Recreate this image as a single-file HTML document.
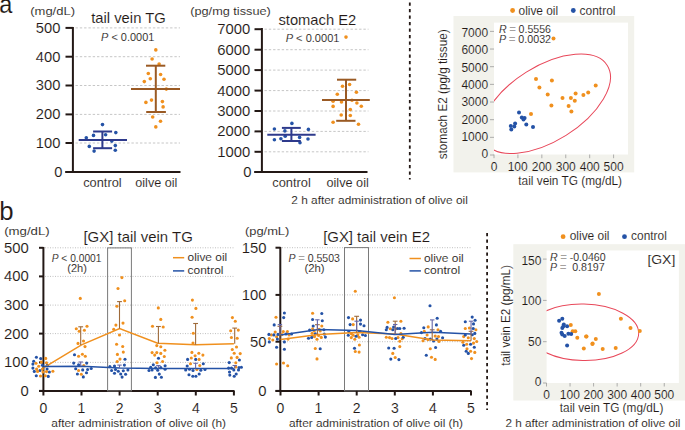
<!DOCTYPE html>
<html><head><meta charset="utf-8"><style>
html,body{margin:0;padding:0;background:#fff;width:685px;height:430px;overflow:hidden}
svg{display:block}
text{font-family:"Liberation Sans",sans-serif;white-space:pre;stroke:#fff;stroke-width:0.1px}
</style></head><body>
<svg width="685" height="430" viewBox="0 0 685 430">
<text x="-0.74" y="13.20" font-size="25.00" fill="#231815" textLength="13.07" lengthAdjust="spacingAndGlyphs">a</text>
<text x="30.22" y="15.20" font-size="11.00" fill="#231815" textLength="44.83" lengthAdjust="spacingAndGlyphs">(mg/dL)</text>
<line x1="75.50" y1="27.90" x2="180.00" y2="27.90" stroke="#c6c6c6" stroke-width="1.00" stroke-dasharray="2.4 1.9"/>
<line x1="75.50" y1="56.70" x2="180.00" y2="56.70" stroke="#c6c6c6" stroke-width="1.00" stroke-dasharray="2.4 1.9"/>
<line x1="75.50" y1="85.50" x2="180.00" y2="85.50" stroke="#c6c6c6" stroke-width="1.00" stroke-dasharray="2.4 1.9"/>
<line x1="75.50" y1="114.40" x2="180.00" y2="114.40" stroke="#c6c6c6" stroke-width="1.00" stroke-dasharray="2.4 1.9"/>
<line x1="75.50" y1="143.00" x2="180.00" y2="143.00" stroke="#c6c6c6" stroke-width="1.00" stroke-dasharray="2.4 1.9"/>
<line x1="65.50" y1="27.90" x2="73.00" y2="27.90" stroke="#231815" stroke-width="2.00"/>
<text x="35.84" y="32.80" font-size="14.00" fill="#231815" textLength="24.53" lengthAdjust="spacingAndGlyphs">500</text>
<line x1="65.50" y1="56.70" x2="73.00" y2="56.70" stroke="#231815" stroke-width="2.00"/>
<text x="35.84" y="61.60" font-size="14.00" fill="#231815" textLength="24.53" lengthAdjust="spacingAndGlyphs">400</text>
<line x1="65.50" y1="85.50" x2="73.00" y2="85.50" stroke="#231815" stroke-width="2.00"/>
<text x="35.84" y="90.40" font-size="14.00" fill="#231815" textLength="24.53" lengthAdjust="spacingAndGlyphs">300</text>
<line x1="65.50" y1="114.40" x2="73.00" y2="114.40" stroke="#231815" stroke-width="2.00"/>
<text x="35.84" y="119.30" font-size="14.00" fill="#231815" textLength="24.53" lengthAdjust="spacingAndGlyphs">200</text>
<line x1="65.50" y1="143.00" x2="73.00" y2="143.00" stroke="#231815" stroke-width="2.00"/>
<text x="35.84" y="147.90" font-size="14.00" fill="#231815" textLength="24.53" lengthAdjust="spacingAndGlyphs">100</text>
<line x1="65.50" y1="172.00" x2="73.00" y2="172.00" stroke="#231815" stroke-width="2.00"/>
<text x="54.36" y="176.90" font-size="14.00" fill="#231815" textLength="8.18" lengthAdjust="spacingAndGlyphs">0</text>
<line x1="72.90" y1="27.00" x2="72.90" y2="173.00" stroke="#231815" stroke-width="2.00"/>
<line x1="65.30" y1="172.00" x2="180.50" y2="172.00" stroke="#231815" stroke-width="2.00"/>
<text x="91.18" y="23.30" font-size="14.70" fill="#231815" textLength="74.62" lengthAdjust="spacingAndGlyphs">tail vein TG</text>
<text x="101.07" y="41.40" font-size="10.50" fill="#231815" textLength="53.33" lengthAdjust="spacingAndGlyphs"><tspan font-style="italic">P</tspan> &lt; 0.0001</text>
<text x="83.19" y="186.80" font-size="12.00" fill="#231815" textLength="38.47" lengthAdjust="spacingAndGlyphs">control</text>
<text x="135.29" y="186.80" font-size="12.00" fill="#231815" textLength="42.13" lengthAdjust="spacingAndGlyphs">oilve oil</text>
<circle cx="102.50" cy="124.60" r="1.80" fill="#2452a6"/>
<circle cx="115.80" cy="132.60" r="1.80" fill="#2452a6"/>
<circle cx="93.50" cy="135.40" r="1.80" fill="#2452a6"/>
<circle cx="105.60" cy="134.70" r="1.80" fill="#2452a6"/>
<circle cx="86.30" cy="137.80" r="1.80" fill="#2452a6"/>
<circle cx="111.80" cy="141.10" r="1.80" fill="#2452a6"/>
<circle cx="89.30" cy="146.40" r="1.80" fill="#2452a6"/>
<circle cx="115.30" cy="145.60" r="1.80" fill="#2452a6"/>
<circle cx="94.10" cy="151.10" r="1.80" fill="#2452a6"/>
<circle cx="115.30" cy="150.30" r="1.80" fill="#2452a6"/>
<circle cx="155.80" cy="49.90" r="1.80" fill="#f0901e"/>
<circle cx="152.10" cy="59.00" r="1.80" fill="#f0901e"/>
<circle cx="159.10" cy="64.10" r="1.80" fill="#f0901e"/>
<circle cx="148.30" cy="73.50" r="1.80" fill="#f0901e"/>
<circle cx="160.60" cy="74.50" r="1.80" fill="#f0901e"/>
<circle cx="150.30" cy="78.70" r="1.80" fill="#f0901e"/>
<circle cx="164.00" cy="79.20" r="1.80" fill="#f0901e"/>
<circle cx="144.30" cy="81.60" r="1.80" fill="#f0901e"/>
<circle cx="166.30" cy="89.10" r="1.80" fill="#f0901e"/>
<circle cx="145.90" cy="102.40" r="1.80" fill="#f0901e"/>
<circle cx="151.50" cy="100.10" r="1.80" fill="#f0901e"/>
<circle cx="162.40" cy="101.60" r="1.80" fill="#f0901e"/>
<circle cx="163.10" cy="106.90" r="1.80" fill="#f0901e"/>
<circle cx="152.70" cy="117.00" r="1.80" fill="#f0901e"/>
<circle cx="160.50" cy="121.30" r="1.80" fill="#f0901e"/>
<circle cx="155.80" cy="126.90" r="1.80" fill="#f0901e"/>
<line x1="78.70" y1="139.90" x2="127.00" y2="139.90" stroke="#2e3a8c" stroke-width="2.00"/>
<line x1="102.40" y1="131.50" x2="102.40" y2="148.20" stroke="#2e3a8c" stroke-width="2.00"/>
<line x1="93.10" y1="131.50" x2="112.10" y2="131.50" stroke="#2e3a8c" stroke-width="2.00"/>
<line x1="93.10" y1="148.20" x2="112.10" y2="148.20" stroke="#2e3a8c" stroke-width="2.00"/>
<line x1="131.00" y1="89.00" x2="180.00" y2="89.00" stroke="#9a5a24" stroke-width="2.00"/>
<line x1="155.80" y1="65.70" x2="155.80" y2="112.00" stroke="#9a5a24" stroke-width="2.00"/>
<line x1="146.00" y1="65.70" x2="165.30" y2="65.70" stroke="#9a5a24" stroke-width="2.00"/>
<line x1="146.20" y1="112.00" x2="165.90" y2="112.00" stroke="#9a5a24" stroke-width="2.00"/>
<text x="190.24" y="15.20" font-size="11.00" fill="#231815" textLength="80.53" lengthAdjust="spacingAndGlyphs">(pg/mg tissue)</text>
<line x1="264.50" y1="29.20" x2="368.50" y2="29.20" stroke="#c6c6c6" stroke-width="1.00" stroke-dasharray="2.4 1.9"/>
<line x1="264.50" y1="49.70" x2="368.50" y2="49.70" stroke="#c6c6c6" stroke-width="1.00" stroke-dasharray="2.4 1.9"/>
<line x1="264.50" y1="70.10" x2="368.50" y2="70.10" stroke="#c6c6c6" stroke-width="1.00" stroke-dasharray="2.4 1.9"/>
<line x1="264.50" y1="90.60" x2="368.50" y2="90.60" stroke="#c6c6c6" stroke-width="1.00" stroke-dasharray="2.4 1.9"/>
<line x1="264.50" y1="111.00" x2="368.50" y2="111.00" stroke="#c6c6c6" stroke-width="1.00" stroke-dasharray="2.4 1.9"/>
<line x1="264.50" y1="131.40" x2="368.50" y2="131.40" stroke="#c6c6c6" stroke-width="1.00" stroke-dasharray="2.4 1.9"/>
<line x1="264.50" y1="151.80" x2="368.50" y2="151.80" stroke="#c6c6c6" stroke-width="1.00" stroke-dasharray="2.4 1.9"/>
<line x1="254.50" y1="29.20" x2="262.00" y2="29.20" stroke="#231815" stroke-width="2.00"/>
<text x="217.20" y="34.10" font-size="14.00" fill="#231815" textLength="33.01" lengthAdjust="spacingAndGlyphs">7000</text>
<line x1="254.50" y1="49.70" x2="262.00" y2="49.70" stroke="#231815" stroke-width="2.00"/>
<text x="217.20" y="54.60" font-size="14.00" fill="#231815" textLength="33.01" lengthAdjust="spacingAndGlyphs">6000</text>
<line x1="254.50" y1="70.10" x2="262.00" y2="70.10" stroke="#231815" stroke-width="2.00"/>
<text x="217.20" y="75.00" font-size="14.00" fill="#231815" textLength="33.01" lengthAdjust="spacingAndGlyphs">5000</text>
<line x1="254.50" y1="90.60" x2="262.00" y2="90.60" stroke="#231815" stroke-width="2.00"/>
<text x="217.20" y="95.50" font-size="14.00" fill="#231815" textLength="33.01" lengthAdjust="spacingAndGlyphs">4000</text>
<line x1="254.50" y1="111.00" x2="262.00" y2="111.00" stroke="#231815" stroke-width="2.00"/>
<text x="217.20" y="115.90" font-size="14.00" fill="#231815" textLength="33.01" lengthAdjust="spacingAndGlyphs">3000</text>
<line x1="254.50" y1="131.40" x2="262.00" y2="131.40" stroke="#231815" stroke-width="2.00"/>
<text x="217.20" y="136.30" font-size="14.00" fill="#231815" textLength="33.01" lengthAdjust="spacingAndGlyphs">2000</text>
<line x1="254.50" y1="151.80" x2="262.00" y2="151.80" stroke="#231815" stroke-width="2.00"/>
<text x="217.20" y="156.70" font-size="14.00" fill="#231815" textLength="33.01" lengthAdjust="spacingAndGlyphs">1000</text>
<line x1="254.50" y1="172.00" x2="262.00" y2="172.00" stroke="#231815" stroke-width="2.00"/>
<text x="243.28" y="176.90" font-size="14.00" fill="#231815" textLength="8.25" lengthAdjust="spacingAndGlyphs">0</text>
<line x1="261.90" y1="28.00" x2="261.90" y2="173.00" stroke="#231815" stroke-width="2.00"/>
<line x1="254.30" y1="172.00" x2="367.50" y2="172.00" stroke="#231815" stroke-width="2.00"/>
<text x="278.43" y="25.10" font-size="14.60" fill="#231815" textLength="77.81" lengthAdjust="spacingAndGlyphs">stomach E2</text>
<text x="285.67" y="41.50" font-size="10.50" fill="#231815" textLength="53.83" lengthAdjust="spacingAndGlyphs"><tspan font-style="italic">P</tspan> &lt; 0.0001</text>
<text x="272.29" y="186.80" font-size="12.00" fill="#231815" textLength="38.57" lengthAdjust="spacingAndGlyphs">control</text>
<text x="326.49" y="186.80" font-size="12.00" fill="#231815" textLength="42.33" lengthAdjust="spacingAndGlyphs">oilve oil</text>
<circle cx="291.90" cy="123.40" r="1.80" fill="#2452a6"/>
<circle cx="274.40" cy="129.00" r="1.80" fill="#2452a6"/>
<circle cx="308.40" cy="129.40" r="1.80" fill="#2452a6"/>
<circle cx="284.90" cy="130.90" r="1.80" fill="#2452a6"/>
<circle cx="285.20" cy="136.30" r="1.80" fill="#2452a6"/>
<circle cx="299.60" cy="137.40" r="1.80" fill="#2452a6"/>
<circle cx="274.40" cy="139.80" r="1.80" fill="#2452a6"/>
<circle cx="280.90" cy="138.80" r="1.80" fill="#2452a6"/>
<circle cx="308.00" cy="139.00" r="1.80" fill="#2452a6"/>
<circle cx="300.00" cy="142.80" r="1.80" fill="#2452a6"/>
<circle cx="346.00" cy="37.10" r="1.80" fill="#f0901e"/>
<circle cx="349.60" cy="84.50" r="1.80" fill="#f0901e"/>
<circle cx="342.50" cy="86.20" r="1.80" fill="#f0901e"/>
<circle cx="356.40" cy="92.20" r="1.80" fill="#f0901e"/>
<circle cx="337.30" cy="94.30" r="1.80" fill="#f0901e"/>
<circle cx="333.10" cy="101.30" r="1.80" fill="#f0901e"/>
<circle cx="341.50" cy="102.00" r="1.80" fill="#f0901e"/>
<circle cx="352.00" cy="100.20" r="1.80" fill="#f0901e"/>
<circle cx="356.90" cy="103.00" r="1.80" fill="#f0901e"/>
<circle cx="361.30" cy="106.20" r="1.80" fill="#f0901e"/>
<circle cx="333.10" cy="106.40" r="1.80" fill="#f0901e"/>
<circle cx="350.30" cy="109.60" r="1.80" fill="#f0901e"/>
<circle cx="341.20" cy="115.00" r="1.80" fill="#f0901e"/>
<circle cx="350.30" cy="115.50" r="1.80" fill="#f0901e"/>
<circle cx="333.10" cy="122.20" r="1.80" fill="#f0901e"/>
<circle cx="358.50" cy="124.30" r="1.80" fill="#f0901e"/>
<line x1="267.30" y1="134.80" x2="315.60" y2="134.80" stroke="#2e3a8c" stroke-width="2.00"/>
<line x1="291.40" y1="127.90" x2="291.40" y2="141.00" stroke="#2e3a8c" stroke-width="2.00"/>
<line x1="281.90" y1="127.90" x2="300.80" y2="127.90" stroke="#2e3a8c" stroke-width="2.00"/>
<line x1="281.90" y1="141.00" x2="300.80" y2="141.00" stroke="#2e3a8c" stroke-width="2.00"/>
<line x1="322.00" y1="99.90" x2="369.80" y2="99.90" stroke="#9a5a24" stroke-width="2.00"/>
<line x1="346.00" y1="79.70" x2="346.00" y2="120.80" stroke="#9a5a24" stroke-width="2.00"/>
<line x1="337.00" y1="79.70" x2="356.20" y2="79.70" stroke="#9a5a24" stroke-width="2.00"/>
<line x1="336.20" y1="120.80" x2="355.50" y2="120.80" stroke="#9a5a24" stroke-width="2.00"/>
<text x="291.31" y="203.80" font-size="11.70" fill="#231815" textLength="176.48" lengthAdjust="spacingAndGlyphs">2 h after administration of olive oil</text>
<line x1="409.80" y1="2.50" x2="409.80" y2="179.50" stroke="#231815" stroke-width="1.80" stroke-dasharray="3.2 3.3"/>
<line x1="487.10" y1="233.00" x2="487.10" y2="410.00" stroke="#231815" stroke-width="1.80" stroke-dasharray="3.2 3.3"/>
<rect x="453.5" y="16" width="180.7" height="156.4" fill="#f2f2ec"/>
<rect x="494" y="22.6" width="134" height="131.9" fill="#ffffff"/>
<clipPath id="c1"><rect x="494" y="22.6" width="134" height="131.9"/></clipPath>
<g clip-path="url(#c1)"><ellipse cx="546.15" cy="103.8" rx="72.15" ry="37.35" transform="rotate(-32.1 546.15 103.8)" fill="none" stroke="#e8485a" stroke-width="1"/></g>
<line x1="490.00" y1="155.00" x2="494.00" y2="155.00" stroke="#9a9a9a" stroke-width="0.80"/>
<text x="481.46" y="157.70" font-size="12.00" fill="#231815">0</text>
<line x1="490.00" y1="137.34" x2="494.00" y2="137.34" stroke="#9a9a9a" stroke-width="0.80"/>
<text x="461.42" y="141.40" font-size="12.00" fill="#231815">1000</text>
<line x1="490.00" y1="119.68" x2="494.00" y2="119.68" stroke="#9a9a9a" stroke-width="0.80"/>
<text x="461.42" y="124.30" font-size="12.00" fill="#231815">2000</text>
<line x1="490.00" y1="102.02" x2="494.00" y2="102.02" stroke="#9a9a9a" stroke-width="0.80"/>
<text x="461.42" y="106.40" font-size="12.00" fill="#231815">3000</text>
<line x1="490.00" y1="84.36" x2="494.00" y2="84.36" stroke="#9a9a9a" stroke-width="0.80"/>
<text x="461.42" y="88.60" font-size="12.00" fill="#231815">4000</text>
<line x1="490.00" y1="66.70" x2="494.00" y2="66.70" stroke="#9a9a9a" stroke-width="0.80"/>
<text x="461.42" y="71.60" font-size="12.00" fill="#231815">5000</text>
<line x1="490.00" y1="49.04" x2="494.00" y2="49.04" stroke="#9a9a9a" stroke-width="0.80"/>
<text x="461.42" y="53.60" font-size="12.00" fill="#231815">6000</text>
<line x1="490.00" y1="31.38" x2="494.00" y2="31.38" stroke="#9a9a9a" stroke-width="0.80"/>
<text x="461.42" y="37.30" font-size="12.00" fill="#231815">7000</text>
<line x1="494.00" y1="154.50" x2="494.00" y2="158.20" stroke="#9a9a9a" stroke-width="0.80"/>
<text x="490.64" y="171.40" font-size="12.00" fill="#231815">0</text>
<line x1="517.92" y1="154.50" x2="517.92" y2="158.20" stroke="#9a9a9a" stroke-width="0.80"/>
<text x="507.69" y="171.40" font-size="12.00" fill="#231815">100</text>
<line x1="541.84" y1="154.50" x2="541.84" y2="158.20" stroke="#9a9a9a" stroke-width="0.80"/>
<text x="531.76" y="171.40" font-size="12.00" fill="#231815">200</text>
<line x1="565.76" y1="154.50" x2="565.76" y2="158.20" stroke="#9a9a9a" stroke-width="0.80"/>
<text x="555.77" y="171.40" font-size="12.00" fill="#231815">300</text>
<line x1="589.68" y1="154.50" x2="589.68" y2="158.20" stroke="#9a9a9a" stroke-width="0.80"/>
<text x="579.78" y="171.40" font-size="12.00" fill="#231815">400</text>
<line x1="613.60" y1="154.50" x2="613.60" y2="158.20" stroke="#9a9a9a" stroke-width="0.80"/>
<text x="603.58" y="171.40" font-size="12.00" fill="#231815">500</text>
<text x="518.32" y="185.20" font-size="12.00" fill="#231815" textLength="103.72" lengthAdjust="spacingAndGlyphs">tail vein TG (mg/dL)</text>
<circle cx="512.60" cy="10.50" r="2.40" fill="#f0901e"/>
<text x="518.52" y="14.60" font-size="12.00" fill="#231815" textLength="39.65" lengthAdjust="spacingAndGlyphs">olive oil</text>
<circle cx="573.30" cy="10.50" r="2.40" fill="#2452a6"/>
<text x="579.52" y="14.60" font-size="12.00" fill="#231815" textLength="35.98" lengthAdjust="spacingAndGlyphs">control</text>
<text x="498.98" y="32.60" font-size="11.50" fill="#231815" textLength="51.94" lengthAdjust="spacingAndGlyphs"><tspan font-style="italic">R</tspan> = 0.5556</text>
<text x="498.98" y="43.00" font-size="11.50" fill="#231815" textLength="52.06" lengthAdjust="spacingAndGlyphs"><tspan font-style="italic">P</tspan> = 0.0032</text>
<circle cx="553.50" cy="38.40" r="2.00" fill="#f0901e"/>
<circle cx="536.00" cy="79.00" r="2.00" fill="#f0901e"/>
<circle cx="551.90" cy="80.40" r="2.00" fill="#f0901e"/>
<circle cx="539.40" cy="87.40" r="2.00" fill="#f0901e"/>
<circle cx="547.70" cy="94.40" r="2.00" fill="#f0901e"/>
<circle cx="551.40" cy="105.50" r="2.00" fill="#f0901e"/>
<circle cx="562.50" cy="98.00" r="2.00" fill="#f0901e"/>
<circle cx="570.90" cy="98.00" r="2.00" fill="#f0901e"/>
<circle cx="575.60" cy="93.50" r="2.00" fill="#f0901e"/>
<circle cx="574.80" cy="100.80" r="2.00" fill="#f0901e"/>
<circle cx="568.60" cy="106.10" r="2.00" fill="#f0901e"/>
<circle cx="571.40" cy="111.60" r="2.00" fill="#f0901e"/>
<circle cx="583.40" cy="94.90" r="2.00" fill="#f0901e"/>
<circle cx="588.20" cy="92.40" r="2.00" fill="#f0901e"/>
<circle cx="595.70" cy="85.40" r="2.00" fill="#f0901e"/>
<circle cx="531.00" cy="113.90" r="2.00" fill="#f0901e"/>
<circle cx="519.00" cy="112.50" r="2.00" fill="#2452a6"/>
<circle cx="521.80" cy="117.50" r="2.00" fill="#2452a6"/>
<circle cx="524.60" cy="118.10" r="2.00" fill="#2452a6"/>
<circle cx="523.50" cy="119.50" r="2.00" fill="#2452a6"/>
<circle cx="515.10" cy="123.60" r="2.00" fill="#2452a6"/>
<circle cx="510.80" cy="125.90" r="2.00" fill="#2452a6"/>
<circle cx="511.30" cy="129.40" r="2.00" fill="#2452a6"/>
<circle cx="514.30" cy="126.40" r="2.00" fill="#2452a6"/>
<circle cx="526.30" cy="124.50" r="2.00" fill="#2452a6"/>
<circle cx="533.00" cy="127.00" r="2.00" fill="#2452a6"/>
<g transform="translate(447.4 159) rotate(-90)"><text x="-0.29" y="0.00" font-size="12.00" fill="#231815" textLength="130.01" lengthAdjust="spacingAndGlyphs">stomach E2 (pg/g tissue)</text></g>
<text x="-0.68" y="219.60" font-size="25.00" fill="#231815" textLength="14.34" lengthAdjust="spacingAndGlyphs">b</text>
<text x="4.21" y="234.70" font-size="11.50" fill="#231815" textLength="45.46" lengthAdjust="spacingAndGlyphs">(mg/dL)</text>
<line x1="45.00" y1="247.80" x2="234.00" y2="247.80" stroke="#c0c0c0" stroke-width="1.00" stroke-dasharray="1 1.5"/>
<line x1="45.00" y1="276.40" x2="234.00" y2="276.40" stroke="#c0c0c0" stroke-width="1.00" stroke-dasharray="1 1.5"/>
<line x1="45.00" y1="305.10" x2="234.00" y2="305.10" stroke="#c0c0c0" stroke-width="1.00" stroke-dasharray="1 1.5"/>
<line x1="45.00" y1="333.60" x2="234.00" y2="333.60" stroke="#c0c0c0" stroke-width="1.00" stroke-dasharray="1 1.5"/>
<line x1="45.00" y1="362.40" x2="234.00" y2="362.40" stroke="#c0c0c0" stroke-width="1.00" stroke-dasharray="1 1.5"/>
<line x1="39.00" y1="247.80" x2="43.40" y2="247.80" stroke="#231815" stroke-width="2.00"/>
<text x="4.01" y="252.70" font-size="14.00" fill="#231815" textLength="24.76" lengthAdjust="spacingAndGlyphs">500</text>
<line x1="39.00" y1="276.40" x2="43.40" y2="276.40" stroke="#231815" stroke-width="2.00"/>
<text x="4.01" y="281.30" font-size="14.00" fill="#231815" textLength="24.76" lengthAdjust="spacingAndGlyphs">400</text>
<line x1="39.00" y1="305.10" x2="43.40" y2="305.10" stroke="#231815" stroke-width="2.00"/>
<text x="4.01" y="310.00" font-size="14.00" fill="#231815" textLength="24.76" lengthAdjust="spacingAndGlyphs">300</text>
<line x1="39.00" y1="333.60" x2="43.40" y2="333.60" stroke="#231815" stroke-width="2.00"/>
<text x="4.01" y="338.50" font-size="14.00" fill="#231815" textLength="24.76" lengthAdjust="spacingAndGlyphs">200</text>
<line x1="39.00" y1="362.40" x2="43.40" y2="362.40" stroke="#231815" stroke-width="2.00"/>
<text x="4.01" y="367.30" font-size="14.00" fill="#231815" textLength="24.76" lengthAdjust="spacingAndGlyphs">100</text>
<line x1="39.00" y1="390.90" x2="43.40" y2="390.90" stroke="#231815" stroke-width="2.00"/>
<text x="20.48" y="395.80" font-size="14.00" fill="#231815" textLength="8.25" lengthAdjust="spacingAndGlyphs">0</text>
<line x1="43.40" y1="247.00" x2="43.40" y2="391.50" stroke="#231815" stroke-width="2.00"/>
<line x1="39.00" y1="390.90" x2="234.50" y2="390.90" stroke="#231815" stroke-width="2.00"/>
<rect x="107.6" y="247.9" width="23.8" height="143" fill="none" stroke="#7a7a7a" stroke-width="1"/>
<text x="83.45" y="242.30" font-size="14.50" fill="#231815" textLength="109.33" lengthAdjust="spacingAndGlyphs">[GX] tail vein TG</text>
<text x="51.69" y="261.60" font-size="11.00" fill="#231815" textLength="49.77" lengthAdjust="spacingAndGlyphs"><tspan font-style="italic">P</tspan> &lt; 0.0001</text>
<text x="67.24" y="271.60" font-size="11.00" fill="#231815" textLength="19.66" lengthAdjust="spacingAndGlyphs">(2h)</text>
<line x1="173.00" y1="257.70" x2="184.20" y2="257.70" stroke="#f0901e" stroke-width="1.50"/>
<line x1="173.00" y1="270.90" x2="184.20" y2="270.90" stroke="#2452a6" stroke-width="1.50"/>
<text x="187.52" y="260.50" font-size="11.80" fill="#231815" textLength="39.65" lengthAdjust="spacingAndGlyphs">olive oil</text>
<text x="187.52" y="273.90" font-size="11.80" fill="#231815" textLength="35.98" lengthAdjust="spacingAndGlyphs">control</text>
<line x1="43.40" y1="390.90" x2="43.40" y2="395.50" stroke="#231815" stroke-width="2.00"/>
<text x="39.48" y="412.60" font-size="14.00" fill="#231815">0</text>
<line x1="81.50" y1="390.90" x2="81.50" y2="395.50" stroke="#231815" stroke-width="2.00"/>
<text x="77.41" y="412.60" font-size="14.00" fill="#231815">1</text>
<line x1="119.60" y1="390.90" x2="119.60" y2="395.50" stroke="#231815" stroke-width="2.00"/>
<text x="115.71" y="412.60" font-size="14.00" fill="#231815">2</text>
<line x1="157.70" y1="390.90" x2="157.70" y2="395.50" stroke="#231815" stroke-width="2.00"/>
<text x="153.85" y="412.60" font-size="14.00" fill="#231815">3</text>
<line x1="195.80" y1="390.90" x2="195.80" y2="395.50" stroke="#231815" stroke-width="2.00"/>
<text x="191.95" y="412.60" font-size="14.00" fill="#231815">4</text>
<line x1="233.90" y1="390.90" x2="233.90" y2="395.50" stroke="#231815" stroke-width="2.00"/>
<text x="230.02" y="412.60" font-size="14.00" fill="#231815">5</text>
<text x="51.33" y="427.00" font-size="11.70" fill="#231815" textLength="174.63" lengthAdjust="spacingAndGlyphs">after administration of olive oil (h)</text>
<circle cx="36.40" cy="357.20" r="1.55" fill="#2452a6"/>
<circle cx="40.70" cy="358.60" r="1.55" fill="#2452a6"/>
<circle cx="33.70" cy="361.20" r="1.55" fill="#2452a6"/>
<circle cx="32.90" cy="364.10" r="1.55" fill="#2452a6"/>
<circle cx="42.40" cy="365.30" r="1.55" fill="#2452a6"/>
<circle cx="47.30" cy="365.30" r="1.55" fill="#2452a6"/>
<circle cx="32.90" cy="368.10" r="1.55" fill="#2452a6"/>
<circle cx="34.30" cy="371.40" r="1.55" fill="#2452a6"/>
<circle cx="39.90" cy="370.50" r="1.55" fill="#2452a6"/>
<circle cx="47.10" cy="369.10" r="1.55" fill="#2452a6"/>
<circle cx="49.40" cy="372.00" r="1.55" fill="#2452a6"/>
<circle cx="36.30" cy="375.80" r="1.55" fill="#2452a6"/>
<circle cx="48.30" cy="376.40" r="1.55" fill="#2452a6"/>
<circle cx="74.50" cy="354.80" r="1.55" fill="#2452a6"/>
<circle cx="73.70" cy="363.10" r="1.55" fill="#2452a6"/>
<circle cx="86.70" cy="363.10" r="1.55" fill="#2452a6"/>
<circle cx="75.70" cy="368.70" r="1.55" fill="#2452a6"/>
<circle cx="82.70" cy="369.90" r="1.55" fill="#2452a6"/>
<circle cx="87.60" cy="369.50" r="1.55" fill="#2452a6"/>
<circle cx="91.20" cy="368.50" r="1.55" fill="#2452a6"/>
<circle cx="77.40" cy="374.00" r="1.55" fill="#2452a6"/>
<circle cx="86.50" cy="372.80" r="1.55" fill="#2452a6"/>
<circle cx="83.30" cy="376.90" r="1.55" fill="#2452a6"/>
<circle cx="78.60" cy="364.70" r="1.55" fill="#2452a6"/>
<circle cx="125.00" cy="359.30" r="1.55" fill="#2452a6"/>
<circle cx="124.40" cy="365.10" r="1.55" fill="#2452a6"/>
<circle cx="109.90" cy="366.60" r="1.55" fill="#2452a6"/>
<circle cx="114.50" cy="366.00" r="1.55" fill="#2452a6"/>
<circle cx="111.60" cy="370.50" r="1.55" fill="#2452a6"/>
<circle cx="115.50" cy="369.50" r="1.55" fill="#2452a6"/>
<circle cx="118.30" cy="371.30" r="1.55" fill="#2452a6"/>
<circle cx="123.30" cy="370.70" r="1.55" fill="#2452a6"/>
<circle cx="127.90" cy="369.90" r="1.55" fill="#2452a6"/>
<circle cx="114.50" cy="373.30" r="1.55" fill="#2452a6"/>
<circle cx="120.70" cy="374.00" r="1.55" fill="#2452a6"/>
<circle cx="125.60" cy="374.20" r="1.55" fill="#2452a6"/>
<circle cx="122.10" cy="377.10" r="1.55" fill="#2452a6"/>
<circle cx="158.50" cy="358.30" r="1.55" fill="#2452a6"/>
<circle cx="153.30" cy="364.80" r="1.55" fill="#2452a6"/>
<circle cx="165.10" cy="365.80" r="1.55" fill="#2452a6"/>
<circle cx="150.70" cy="367.30" r="1.55" fill="#2452a6"/>
<circle cx="155.60" cy="367.90" r="1.55" fill="#2452a6"/>
<circle cx="160.80" cy="367.60" r="1.55" fill="#2452a6"/>
<circle cx="149.00" cy="370.50" r="1.55" fill="#2452a6"/>
<circle cx="152.10" cy="370.00" r="1.55" fill="#2452a6"/>
<circle cx="157.70" cy="370.20" r="1.55" fill="#2452a6"/>
<circle cx="165.10" cy="369.30" r="1.55" fill="#2452a6"/>
<circle cx="159.30" cy="374.10" r="1.55" fill="#2452a6"/>
<circle cx="155.40" cy="377.40" r="1.55" fill="#2452a6"/>
<circle cx="161.40" cy="377.20" r="1.55" fill="#2452a6"/>
<circle cx="187.60" cy="359.40" r="1.55" fill="#2452a6"/>
<circle cx="195.70" cy="359.40" r="1.55" fill="#2452a6"/>
<circle cx="203.30" cy="363.80" r="1.55" fill="#2452a6"/>
<circle cx="187.20" cy="366.00" r="1.55" fill="#2452a6"/>
<circle cx="185.70" cy="369.90" r="1.55" fill="#2452a6"/>
<circle cx="189.50" cy="369.30" r="1.55" fill="#2452a6"/>
<circle cx="193.00" cy="370.50" r="1.55" fill="#2452a6"/>
<circle cx="200.80" cy="370.20" r="1.55" fill="#2452a6"/>
<circle cx="205.00" cy="369.50" r="1.55" fill="#2452a6"/>
<circle cx="189.00" cy="374.80" r="1.55" fill="#2452a6"/>
<circle cx="199.20" cy="374.00" r="1.55" fill="#2452a6"/>
<circle cx="192.80" cy="376.30" r="1.55" fill="#2452a6"/>
<circle cx="195.90" cy="376.30" r="1.55" fill="#2452a6"/>
<circle cx="239.40" cy="360.00" r="1.55" fill="#2452a6"/>
<circle cx="229.20" cy="362.60" r="1.55" fill="#2452a6"/>
<circle cx="241.40" cy="367.30" r="1.55" fill="#2452a6"/>
<circle cx="228.60" cy="368.10" r="1.55" fill="#2452a6"/>
<circle cx="231.50" cy="368.10" r="1.55" fill="#2452a6"/>
<circle cx="233.80" cy="369.90" r="1.55" fill="#2452a6"/>
<circle cx="238.50" cy="369.90" r="1.55" fill="#2452a6"/>
<circle cx="239.00" cy="367.60" r="1.55" fill="#2452a6"/>
<circle cx="229.50" cy="372.00" r="1.55" fill="#2452a6"/>
<circle cx="229.80" cy="375.10" r="1.55" fill="#2452a6"/>
<circle cx="236.20" cy="374.00" r="1.55" fill="#2452a6"/>
<circle cx="234.20" cy="376.30" r="1.55" fill="#2452a6"/>
<circle cx="45.70" cy="358.40" r="1.55" fill="#f0901e"/>
<circle cx="41.30" cy="362.10" r="1.55" fill="#f0901e"/>
<circle cx="36.00" cy="363.30" r="1.55" fill="#f0901e"/>
<circle cx="46.50" cy="362.70" r="1.55" fill="#f0901e"/>
<circle cx="38.70" cy="366.20" r="1.55" fill="#f0901e"/>
<circle cx="36.60" cy="369.10" r="1.55" fill="#f0901e"/>
<circle cx="42.40" cy="369.10" r="1.55" fill="#f0901e"/>
<circle cx="37.60" cy="371.40" r="1.55" fill="#f0901e"/>
<circle cx="43.00" cy="372.00" r="1.55" fill="#f0901e"/>
<circle cx="46.50" cy="371.60" r="1.55" fill="#f0901e"/>
<circle cx="52.90" cy="371.20" r="1.55" fill="#f0901e"/>
<circle cx="40.50" cy="376.00" r="1.55" fill="#f0901e"/>
<circle cx="45.30" cy="375.80" r="1.55" fill="#f0901e"/>
<circle cx="80.30" cy="298.40" r="1.55" fill="#f0901e"/>
<circle cx="76.30" cy="328.70" r="1.55" fill="#f0901e"/>
<circle cx="79.20" cy="331.30" r="1.55" fill="#f0901e"/>
<circle cx="87.00" cy="326.30" r="1.55" fill="#f0901e"/>
<circle cx="84.40" cy="330.30" r="1.55" fill="#f0901e"/>
<circle cx="83.50" cy="341.00" r="1.55" fill="#f0901e"/>
<circle cx="78.00" cy="343.40" r="1.55" fill="#f0901e"/>
<circle cx="85.00" cy="346.60" r="1.55" fill="#f0901e"/>
<circle cx="78.60" cy="356.30" r="1.55" fill="#f0901e"/>
<circle cx="82.40" cy="354.20" r="1.55" fill="#f0901e"/>
<circle cx="85.30" cy="356.20" r="1.55" fill="#f0901e"/>
<circle cx="83.80" cy="365.50" r="1.55" fill="#f0901e"/>
<circle cx="78.60" cy="370.50" r="1.55" fill="#f0901e"/>
<circle cx="81.30" cy="374.30" r="1.55" fill="#f0901e"/>
<circle cx="121.90" cy="277.60" r="1.55" fill="#f0901e"/>
<circle cx="118.00" cy="288.50" r="1.55" fill="#f0901e"/>
<circle cx="124.70" cy="300.70" r="1.55" fill="#f0901e"/>
<circle cx="116.90" cy="306.30" r="1.55" fill="#f0901e"/>
<circle cx="123.00" cy="323.10" r="1.55" fill="#f0901e"/>
<circle cx="115.90" cy="325.10" r="1.55" fill="#f0901e"/>
<circle cx="113.70" cy="329.20" r="1.55" fill="#f0901e"/>
<circle cx="119.50" cy="335.00" r="1.55" fill="#f0901e"/>
<circle cx="116.60" cy="344.30" r="1.55" fill="#f0901e"/>
<circle cx="122.70" cy="346.50" r="1.55" fill="#f0901e"/>
<circle cx="123.30" cy="352.10" r="1.55" fill="#f0901e"/>
<circle cx="117.40" cy="354.40" r="1.55" fill="#f0901e"/>
<circle cx="120.00" cy="359.10" r="1.55" fill="#f0901e"/>
<circle cx="117.20" cy="361.60" r="1.55" fill="#f0901e"/>
<circle cx="158.30" cy="307.90" r="1.55" fill="#f0901e"/>
<circle cx="160.80" cy="319.40" r="1.55" fill="#f0901e"/>
<circle cx="152.50" cy="326.20" r="1.55" fill="#f0901e"/>
<circle cx="163.20" cy="327.00" r="1.55" fill="#f0901e"/>
<circle cx="156.80" cy="345.60" r="1.55" fill="#f0901e"/>
<circle cx="160.80" cy="346.70" r="1.55" fill="#f0901e"/>
<circle cx="164.90" cy="350.30" r="1.55" fill="#f0901e"/>
<circle cx="152.10" cy="352.60" r="1.55" fill="#f0901e"/>
<circle cx="156.80" cy="352.60" r="1.55" fill="#f0901e"/>
<circle cx="160.80" cy="353.40" r="1.55" fill="#f0901e"/>
<circle cx="154.70" cy="355.10" r="1.55" fill="#f0901e"/>
<circle cx="164.30" cy="356.50" r="1.55" fill="#f0901e"/>
<circle cx="162.60" cy="361.50" r="1.55" fill="#f0901e"/>
<circle cx="157.00" cy="362.70" r="1.55" fill="#f0901e"/>
<circle cx="192.40" cy="300.10" r="1.55" fill="#f0901e"/>
<circle cx="195.90" cy="308.40" r="1.55" fill="#f0901e"/>
<circle cx="192.10" cy="317.30" r="1.55" fill="#f0901e"/>
<circle cx="193.30" cy="333.30" r="1.55" fill="#f0901e"/>
<circle cx="193.00" cy="343.10" r="1.55" fill="#f0901e"/>
<circle cx="191.90" cy="352.40" r="1.55" fill="#f0901e"/>
<circle cx="198.80" cy="353.30" r="1.55" fill="#f0901e"/>
<circle cx="195.10" cy="355.70" r="1.55" fill="#f0901e"/>
<circle cx="202.90" cy="355.10" r="1.55" fill="#f0901e"/>
<circle cx="191.30" cy="358.00" r="1.55" fill="#f0901e"/>
<circle cx="199.10" cy="359.40" r="1.55" fill="#f0901e"/>
<circle cx="190.50" cy="363.80" r="1.55" fill="#f0901e"/>
<circle cx="199.80" cy="365.50" r="1.55" fill="#f0901e"/>
<circle cx="196.90" cy="369.50" r="1.55" fill="#f0901e"/>
<circle cx="232.40" cy="317.60" r="1.55" fill="#f0901e"/>
<circle cx="235.30" cy="321.20" r="1.55" fill="#f0901e"/>
<circle cx="230.70" cy="330.70" r="1.55" fill="#f0901e"/>
<circle cx="238.30" cy="330.10" r="1.55" fill="#f0901e"/>
<circle cx="231.40" cy="337.50" r="1.55" fill="#f0901e"/>
<circle cx="237.20" cy="338.20" r="1.55" fill="#f0901e"/>
<circle cx="236.50" cy="347.00" r="1.55" fill="#f0901e"/>
<circle cx="232.30" cy="349.50" r="1.55" fill="#f0901e"/>
<circle cx="234.20" cy="353.30" r="1.55" fill="#f0901e"/>
<circle cx="240.20" cy="353.60" r="1.55" fill="#f0901e"/>
<circle cx="231.30" cy="357.90" r="1.55" fill="#f0901e"/>
<circle cx="237.10" cy="357.40" r="1.55" fill="#f0901e"/>
<circle cx="235.80" cy="362.70" r="1.55" fill="#f0901e"/>
<circle cx="235.80" cy="367.00" r="1.55" fill="#f0901e"/>
<polyline points="43.4,367.8 81.5,344.9 119.6,328.6 157.7,343.3 195.8,344.8 233.9,343.8" fill="none" stroke="#f0901e" stroke-width="1.5"/>
<polyline points="43.4,366.5 81.5,366.3 119.6,368.0 157.7,368.4 195.8,368.4 233.9,368.5" fill="none" stroke="#2452a6" stroke-width="1.5"/>
<line x1="80.70" y1="326.80" x2="80.70" y2="344.90" stroke="#9e6a3a" stroke-width="1.10"/>
<line x1="78.30" y1="326.80" x2="83.10" y2="326.80" stroke="#9e6a3a" stroke-width="1.10"/>
<line x1="80.70" y1="362.00" x2="80.70" y2="366.30" stroke="#6666a8" stroke-width="1.10"/>
<line x1="78.50" y1="362.00" x2="82.90" y2="362.00" stroke="#6666a8" stroke-width="1.10"/>
<line x1="119.50" y1="301.60" x2="119.50" y2="328.60" stroke="#9e6a3a" stroke-width="1.10"/>
<line x1="117.10" y1="301.60" x2="121.90" y2="301.60" stroke="#9e6a3a" stroke-width="1.10"/>
<line x1="119.50" y1="365.10" x2="119.50" y2="368.00" stroke="#6666a8" stroke-width="1.10"/>
<line x1="117.30" y1="365.10" x2="121.70" y2="365.10" stroke="#6666a8" stroke-width="1.10"/>
<line x1="158.40" y1="326.50" x2="158.40" y2="343.30" stroke="#9e6a3a" stroke-width="1.10"/>
<line x1="156.00" y1="326.50" x2="160.80" y2="326.50" stroke="#9e6a3a" stroke-width="1.10"/>
<line x1="158.40" y1="365.60" x2="158.40" y2="368.40" stroke="#6666a8" stroke-width="1.10"/>
<line x1="156.20" y1="365.60" x2="160.60" y2="365.60" stroke="#6666a8" stroke-width="1.10"/>
<line x1="195.60" y1="323.50" x2="195.60" y2="344.80" stroke="#9e6a3a" stroke-width="1.10"/>
<line x1="193.20" y1="323.50" x2="198.00" y2="323.50" stroke="#9e6a3a" stroke-width="1.10"/>
<line x1="195.60" y1="363.30" x2="195.60" y2="368.40" stroke="#6666a8" stroke-width="1.10"/>
<line x1="193.40" y1="363.30" x2="197.80" y2="363.30" stroke="#6666a8" stroke-width="1.10"/>
<line x1="234.70" y1="328.10" x2="234.70" y2="343.80" stroke="#9e6a3a" stroke-width="1.10"/>
<line x1="232.30" y1="328.10" x2="237.10" y2="328.10" stroke="#9e6a3a" stroke-width="1.10"/>
<line x1="234.70" y1="365.50" x2="234.70" y2="368.50" stroke="#6666a8" stroke-width="1.10"/>
<line x1="232.50" y1="365.50" x2="236.90" y2="365.50" stroke="#6666a8" stroke-width="1.10"/>
<text x="244.93" y="234.70" font-size="11.50" fill="#231815" textLength="44.42" lengthAdjust="spacingAndGlyphs">(pg/mL)</text>
<line x1="282.00" y1="247.70" x2="472.00" y2="247.70" stroke="#c0c0c0" stroke-width="1.00" stroke-dasharray="1 1.5"/>
<line x1="282.00" y1="294.90" x2="472.00" y2="294.90" stroke="#c0c0c0" stroke-width="1.00" stroke-dasharray="1 1.5"/>
<line x1="282.00" y1="341.70" x2="472.00" y2="341.70" stroke="#c0c0c0" stroke-width="1.00" stroke-dasharray="1 1.5"/>
<line x1="275.50" y1="247.70" x2="280.50" y2="247.70" stroke="#231815" stroke-width="2.00"/>
<text x="241.81" y="252.60" font-size="14.00" fill="#231815" textLength="24.76" lengthAdjust="spacingAndGlyphs">150</text>
<line x1="275.50" y1="294.90" x2="280.50" y2="294.90" stroke="#231815" stroke-width="2.00"/>
<text x="241.81" y="299.80" font-size="14.00" fill="#231815" textLength="24.76" lengthAdjust="spacingAndGlyphs">100</text>
<line x1="275.50" y1="341.70" x2="280.50" y2="341.70" stroke="#231815" stroke-width="2.00"/>
<text x="250.05" y="346.60" font-size="14.00" fill="#231815" textLength="16.51" lengthAdjust="spacingAndGlyphs">50</text>
<line x1="275.50" y1="390.90" x2="280.50" y2="390.90" stroke="#231815" stroke-width="2.00"/>
<text x="258.28" y="395.80" font-size="14.00" fill="#231815" textLength="8.25" lengthAdjust="spacingAndGlyphs">0</text>
<line x1="280.30" y1="247.00" x2="280.30" y2="391.50" stroke="#231815" stroke-width="2.00"/>
<line x1="275.50" y1="390.90" x2="471.50" y2="390.90" stroke="#231815" stroke-width="2.00"/>
<rect x="344.5" y="247.6" width="24" height="143.3" fill="none" stroke="#7a7a7a" stroke-width="1"/>
<text x="323.16" y="242.20" font-size="14.50" fill="#231815" textLength="106.89" lengthAdjust="spacingAndGlyphs">[GX] tail vein E2</text>
<text x="288.58" y="261.50" font-size="11.00" fill="#231815" textLength="51.34" lengthAdjust="spacingAndGlyphs"><tspan font-style="italic">P</tspan> = 0.5503</text>
<text x="304.42" y="271.50" font-size="11.00" fill="#231815" textLength="20.20" lengthAdjust="spacingAndGlyphs">(2h)</text>
<line x1="409.50" y1="258.50" x2="420.90" y2="258.50" stroke="#f0901e" stroke-width="1.50"/>
<line x1="409.50" y1="270.90" x2="420.90" y2="270.90" stroke="#2452a6" stroke-width="1.50"/>
<text x="423.92" y="262.00" font-size="11.80" fill="#231815" textLength="39.86" lengthAdjust="spacingAndGlyphs">olive oil</text>
<text x="423.92" y="274.30" font-size="11.80" fill="#231815" textLength="36.39" lengthAdjust="spacingAndGlyphs">control</text>
<line x1="280.50" y1="390.90" x2="280.50" y2="395.50" stroke="#231815" stroke-width="2.00"/>
<text x="276.58" y="412.80" font-size="14.00" fill="#231815">0</text>
<line x1="318.60" y1="390.90" x2="318.60" y2="395.50" stroke="#231815" stroke-width="2.00"/>
<text x="314.50" y="412.80" font-size="14.00" fill="#231815">1</text>
<line x1="356.70" y1="390.90" x2="356.70" y2="395.50" stroke="#231815" stroke-width="2.00"/>
<text x="352.81" y="412.80" font-size="14.00" fill="#231815">2</text>
<line x1="394.80" y1="390.90" x2="394.80" y2="395.50" stroke="#231815" stroke-width="2.00"/>
<text x="390.95" y="412.80" font-size="14.00" fill="#231815">3</text>
<line x1="432.90" y1="390.90" x2="432.90" y2="395.50" stroke="#231815" stroke-width="2.00"/>
<text x="429.05" y="412.80" font-size="14.00" fill="#231815">4</text>
<line x1="471.00" y1="390.90" x2="471.00" y2="395.50" stroke="#231815" stroke-width="2.00"/>
<text x="467.12" y="412.80" font-size="14.00" fill="#231815">5</text>
<text x="289.03" y="426.60" font-size="11.70" fill="#231815" textLength="174.03" lengthAdjust="spacingAndGlyphs">after administration of olive oil (h)</text>
<circle cx="276.00" cy="317.20" r="1.55" fill="#f0901e"/>
<circle cx="275.20" cy="332.10" r="1.55" fill="#f0901e"/>
<circle cx="283.30" cy="331.60" r="1.55" fill="#f0901e"/>
<circle cx="287.40" cy="331.60" r="1.55" fill="#f0901e"/>
<circle cx="271.40" cy="334.90" r="1.55" fill="#f0901e"/>
<circle cx="276.60" cy="336.70" r="1.55" fill="#f0901e"/>
<circle cx="281.90" cy="334.60" r="1.55" fill="#f0901e"/>
<circle cx="289.10" cy="334.90" r="1.55" fill="#f0901e"/>
<circle cx="269.30" cy="338.60" r="1.55" fill="#f0901e"/>
<circle cx="272.80" cy="340.00" r="1.55" fill="#f0901e"/>
<circle cx="288.10" cy="339.10" r="1.55" fill="#f0901e"/>
<circle cx="276.60" cy="364.00" r="1.55" fill="#f0901e"/>
<circle cx="283.50" cy="363.00" r="1.55" fill="#f0901e"/>
<circle cx="287.70" cy="365.80" r="1.55" fill="#f0901e"/>
<circle cx="312.60" cy="313.30" r="1.55" fill="#f0901e"/>
<circle cx="321.80" cy="326.00" r="1.55" fill="#f0901e"/>
<circle cx="312.60" cy="328.90" r="1.55" fill="#f0901e"/>
<circle cx="319.10" cy="329.30" r="1.55" fill="#f0901e"/>
<circle cx="314.20" cy="330.90" r="1.55" fill="#f0901e"/>
<circle cx="320.20" cy="330.90" r="1.55" fill="#f0901e"/>
<circle cx="312.10" cy="333.30" r="1.55" fill="#f0901e"/>
<circle cx="314.50" cy="336.60" r="1.55" fill="#f0901e"/>
<circle cx="318.60" cy="335.40" r="1.55" fill="#f0901e"/>
<circle cx="321.30" cy="337.40" r="1.55" fill="#f0901e"/>
<circle cx="317.00" cy="339.30" r="1.55" fill="#f0901e"/>
<circle cx="315.30" cy="348.50" r="1.55" fill="#f0901e"/>
<circle cx="317.00" cy="358.90" r="1.55" fill="#f0901e"/>
<circle cx="355.30" cy="291.30" r="1.55" fill="#f0901e"/>
<circle cx="352.60" cy="318.90" r="1.55" fill="#f0901e"/>
<circle cx="353.20" cy="324.60" r="1.55" fill="#f0901e"/>
<circle cx="360.20" cy="331.50" r="1.55" fill="#f0901e"/>
<circle cx="351.30" cy="333.60" r="1.55" fill="#f0901e"/>
<circle cx="353.20" cy="335.20" r="1.55" fill="#f0901e"/>
<circle cx="357.80" cy="334.70" r="1.55" fill="#f0901e"/>
<circle cx="351.30" cy="337.60" r="1.55" fill="#f0901e"/>
<circle cx="354.80" cy="339.30" r="1.55" fill="#f0901e"/>
<circle cx="359.10" cy="337.20" r="1.55" fill="#f0901e"/>
<circle cx="359.40" cy="345.00" r="1.55" fill="#f0901e"/>
<circle cx="355.30" cy="351.50" r="1.55" fill="#f0901e"/>
<circle cx="359.10" cy="352.10" r="1.55" fill="#f0901e"/>
<circle cx="394.40" cy="297.80" r="1.55" fill="#f0901e"/>
<circle cx="387.90" cy="322.20" r="1.55" fill="#f0901e"/>
<circle cx="400.90" cy="321.20" r="1.55" fill="#f0901e"/>
<circle cx="390.30" cy="328.70" r="1.55" fill="#f0901e"/>
<circle cx="396.00" cy="328.70" r="1.55" fill="#f0901e"/>
<circle cx="400.90" cy="333.60" r="1.55" fill="#f0901e"/>
<circle cx="386.30" cy="337.20" r="1.55" fill="#f0901e"/>
<circle cx="389.50" cy="337.60" r="1.55" fill="#f0901e"/>
<circle cx="392.00" cy="338.50" r="1.55" fill="#f0901e"/>
<circle cx="398.00" cy="337.60" r="1.55" fill="#f0901e"/>
<circle cx="402.20" cy="338.80" r="1.55" fill="#f0901e"/>
<circle cx="399.80" cy="341.20" r="1.55" fill="#f0901e"/>
<circle cx="399.80" cy="346.60" r="1.55" fill="#f0901e"/>
<circle cx="392.80" cy="353.40" r="1.55" fill="#f0901e"/>
<circle cx="395.20" cy="357.50" r="1.55" fill="#f0901e"/>
<circle cx="428.20" cy="326.90" r="1.55" fill="#f0901e"/>
<circle cx="424.30" cy="331.40" r="1.55" fill="#f0901e"/>
<circle cx="438.00" cy="329.80" r="1.55" fill="#f0901e"/>
<circle cx="427.10" cy="335.00" r="1.55" fill="#f0901e"/>
<circle cx="435.20" cy="336.10" r="1.55" fill="#f0901e"/>
<circle cx="438.50" cy="336.60" r="1.55" fill="#f0901e"/>
<circle cx="423.00" cy="340.70" r="1.55" fill="#f0901e"/>
<circle cx="427.90" cy="339.60" r="1.55" fill="#f0901e"/>
<circle cx="439.00" cy="341.50" r="1.55" fill="#f0901e"/>
<circle cx="430.30" cy="348.80" r="1.55" fill="#f0901e"/>
<circle cx="431.50" cy="357.30" r="1.55" fill="#f0901e"/>
<circle cx="435.20" cy="359.40" r="1.55" fill="#f0901e"/>
<circle cx="465.30" cy="328.50" r="1.55" fill="#f0901e"/>
<circle cx="469.40" cy="328.00" r="1.55" fill="#f0901e"/>
<circle cx="475.90" cy="329.80" r="1.55" fill="#f0901e"/>
<circle cx="463.70" cy="336.60" r="1.55" fill="#f0901e"/>
<circle cx="468.30" cy="337.80" r="1.55" fill="#f0901e"/>
<circle cx="474.30" cy="338.60" r="1.55" fill="#f0901e"/>
<circle cx="476.70" cy="341.50" r="1.55" fill="#f0901e"/>
<circle cx="462.90" cy="342.30" r="1.55" fill="#f0901e"/>
<circle cx="466.70" cy="344.30" r="1.55" fill="#f0901e"/>
<circle cx="473.50" cy="343.10" r="1.55" fill="#f0901e"/>
<circle cx="467.00" cy="348.80" r="1.55" fill="#f0901e"/>
<circle cx="470.60" cy="351.30" r="1.55" fill="#f0901e"/>
<circle cx="474.80" cy="352.40" r="1.55" fill="#f0901e"/>
<circle cx="471.50" cy="358.60" r="1.55" fill="#f0901e"/>
<circle cx="284.40" cy="313.00" r="1.55" fill="#2452a6"/>
<circle cx="283.70" cy="317.60" r="1.55" fill="#2452a6"/>
<circle cx="274.20" cy="324.90" r="1.55" fill="#2452a6"/>
<circle cx="268.90" cy="334.40" r="1.55" fill="#2452a6"/>
<circle cx="278.00" cy="334.40" r="1.55" fill="#2452a6"/>
<circle cx="273.90" cy="334.90" r="1.55" fill="#2452a6"/>
<circle cx="286.00" cy="334.00" r="1.55" fill="#2452a6"/>
<circle cx="291.60" cy="334.00" r="1.55" fill="#2452a6"/>
<circle cx="277.40" cy="339.10" r="1.55" fill="#2452a6"/>
<circle cx="269.30" cy="341.90" r="1.55" fill="#2452a6"/>
<circle cx="284.40" cy="341.90" r="1.55" fill="#2452a6"/>
<circle cx="276.60" cy="347.30" r="1.55" fill="#2452a6"/>
<circle cx="284.40" cy="349.20" r="1.55" fill="#2452a6"/>
<circle cx="321.80" cy="313.50" r="1.55" fill="#2452a6"/>
<circle cx="312.60" cy="319.50" r="1.55" fill="#2452a6"/>
<circle cx="322.30" cy="320.70" r="1.55" fill="#2452a6"/>
<circle cx="313.20" cy="326.00" r="1.55" fill="#2452a6"/>
<circle cx="309.60" cy="330.10" r="1.55" fill="#2452a6"/>
<circle cx="323.90" cy="329.80" r="1.55" fill="#2452a6"/>
<circle cx="315.30" cy="333.80" r="1.55" fill="#2452a6"/>
<circle cx="324.30" cy="334.10" r="1.55" fill="#2452a6"/>
<circle cx="308.50" cy="338.20" r="1.55" fill="#2452a6"/>
<circle cx="311.70" cy="337.40" r="1.55" fill="#2452a6"/>
<circle cx="325.40" cy="337.10" r="1.55" fill="#2452a6"/>
<circle cx="320.20" cy="348.80" r="1.55" fill="#2452a6"/>
<circle cx="348.50" cy="317.60" r="1.55" fill="#2452a6"/>
<circle cx="360.50" cy="320.10" r="1.55" fill="#2452a6"/>
<circle cx="350.10" cy="324.60" r="1.55" fill="#2452a6"/>
<circle cx="360.50" cy="324.10" r="1.55" fill="#2452a6"/>
<circle cx="364.00" cy="325.80" r="1.55" fill="#2452a6"/>
<circle cx="348.80" cy="331.50" r="1.55" fill="#2452a6"/>
<circle cx="359.40" cy="331.50" r="1.55" fill="#2452a6"/>
<circle cx="348.30" cy="335.20" r="1.55" fill="#2452a6"/>
<circle cx="356.10" cy="336.30" r="1.55" fill="#2452a6"/>
<circle cx="362.60" cy="334.70" r="1.55" fill="#2452a6"/>
<circle cx="365.40" cy="335.50" r="1.55" fill="#2452a6"/>
<circle cx="354.50" cy="348.20" r="1.55" fill="#2452a6"/>
<circle cx="387.10" cy="327.40" r="1.55" fill="#2452a6"/>
<circle cx="393.60" cy="327.10" r="1.55" fill="#2452a6"/>
<circle cx="397.60" cy="328.50" r="1.55" fill="#2452a6"/>
<circle cx="399.80" cy="328.50" r="1.55" fill="#2452a6"/>
<circle cx="404.10" cy="328.20" r="1.55" fill="#2452a6"/>
<circle cx="386.30" cy="329.80" r="1.55" fill="#2452a6"/>
<circle cx="392.80" cy="329.80" r="1.55" fill="#2452a6"/>
<circle cx="395.70" cy="338.50" r="1.55" fill="#2452a6"/>
<circle cx="403.30" cy="337.20" r="1.55" fill="#2452a6"/>
<circle cx="388.70" cy="348.00" r="1.55" fill="#2452a6"/>
<circle cx="394.10" cy="348.20" r="1.55" fill="#2452a6"/>
<circle cx="390.80" cy="359.10" r="1.55" fill="#2452a6"/>
<circle cx="398.90" cy="359.60" r="1.55" fill="#2452a6"/>
<circle cx="430.00" cy="305.70" r="1.55" fill="#2452a6"/>
<circle cx="437.20" cy="318.20" r="1.55" fill="#2452a6"/>
<circle cx="436.40" cy="324.90" r="1.55" fill="#2452a6"/>
<circle cx="423.80" cy="327.70" r="1.55" fill="#2452a6"/>
<circle cx="440.60" cy="331.40" r="1.55" fill="#2452a6"/>
<circle cx="421.40" cy="332.60" r="1.55" fill="#2452a6"/>
<circle cx="425.00" cy="338.60" r="1.55" fill="#2452a6"/>
<circle cx="430.30" cy="339.10" r="1.55" fill="#2452a6"/>
<circle cx="433.60" cy="341.00" r="1.55" fill="#2452a6"/>
<circle cx="436.90" cy="339.10" r="1.55" fill="#2452a6"/>
<circle cx="442.60" cy="337.80" r="1.55" fill="#2452a6"/>
<circle cx="435.60" cy="347.50" r="1.55" fill="#2452a6"/>
<circle cx="426.30" cy="355.30" r="1.55" fill="#2452a6"/>
<circle cx="472.20" cy="317.10" r="1.55" fill="#2452a6"/>
<circle cx="465.30" cy="321.70" r="1.55" fill="#2452a6"/>
<circle cx="475.10" cy="320.30" r="1.55" fill="#2452a6"/>
<circle cx="473.50" cy="323.90" r="1.55" fill="#2452a6"/>
<circle cx="473.20" cy="328.50" r="1.55" fill="#2452a6"/>
<circle cx="474.80" cy="333.40" r="1.55" fill="#2452a6"/>
<circle cx="472.30" cy="334.70" r="1.55" fill="#2452a6"/>
<circle cx="465.30" cy="335.00" r="1.55" fill="#2452a6"/>
<circle cx="463.70" cy="345.30" r="1.55" fill="#2452a6"/>
<circle cx="470.60" cy="344.30" r="1.55" fill="#2452a6"/>
<circle cx="474.30" cy="347.20" r="1.55" fill="#2452a6"/>
<circle cx="466.20" cy="351.30" r="1.55" fill="#2452a6"/>
<circle cx="468.30" cy="353.40" r="1.55" fill="#2452a6"/>
<polyline points="280.5,339.5 318.6,334.5 356.7,332.6 394.8,334.0 432.9,339.9 471.0,340.7" fill="none" stroke="#f0901e" stroke-width="1.5"/>
<polyline points="280.5,334.9 318.6,329.6 356.7,330.5 394.8,334.6 432.9,332.2 471.0,333.9" fill="none" stroke="#2452a6" stroke-width="1.5"/>
<line x1="279.90" y1="326.30" x2="279.90" y2="339.50" stroke="#9e6a3a" stroke-width="1.10"/>
<line x1="277.50" y1="326.30" x2="282.30" y2="326.30" stroke="#9e6a3a" stroke-width="1.10"/>
<line x1="279.90" y1="324.60" x2="279.90" y2="334.90" stroke="#6666a8" stroke-width="1.10"/>
<line x1="277.70" y1="324.60" x2="282.10" y2="324.60" stroke="#6666a8" stroke-width="1.10"/>
<line x1="317.40" y1="324.70" x2="317.40" y2="334.50" stroke="#9e6a3a" stroke-width="1.10"/>
<line x1="315.00" y1="324.70" x2="319.80" y2="324.70" stroke="#9e6a3a" stroke-width="1.10"/>
<line x1="317.40" y1="319.80" x2="317.40" y2="329.60" stroke="#6666a8" stroke-width="1.10"/>
<line x1="315.20" y1="319.80" x2="319.60" y2="319.80" stroke="#6666a8" stroke-width="1.10"/>
<line x1="356.65" y1="316.30" x2="356.65" y2="332.60" stroke="#9e6a3a" stroke-width="1.10"/>
<line x1="354.25" y1="316.30" x2="359.05" y2="316.30" stroke="#9e6a3a" stroke-width="1.10"/>
<line x1="356.65" y1="321.20" x2="356.65" y2="330.50" stroke="#6666a8" stroke-width="1.10"/>
<line x1="354.45" y1="321.20" x2="358.85" y2="321.20" stroke="#6666a8" stroke-width="1.10"/>
<line x1="395.20" y1="321.20" x2="395.20" y2="334.00" stroke="#9e6a3a" stroke-width="1.10"/>
<line x1="392.80" y1="321.20" x2="397.60" y2="321.20" stroke="#9e6a3a" stroke-width="1.10"/>
<line x1="395.20" y1="324.50" x2="395.20" y2="334.60" stroke="#6666a8" stroke-width="1.10"/>
<line x1="393.00" y1="324.50" x2="397.40" y2="324.50" stroke="#6666a8" stroke-width="1.10"/>
<line x1="432.20" y1="329.80" x2="432.20" y2="339.90" stroke="#9e6a3a" stroke-width="1.10"/>
<line x1="429.80" y1="329.80" x2="434.60" y2="329.80" stroke="#9e6a3a" stroke-width="1.10"/>
<line x1="432.20" y1="319.90" x2="432.20" y2="332.20" stroke="#6666a8" stroke-width="1.10"/>
<line x1="430.00" y1="319.90" x2="434.40" y2="319.90" stroke="#6666a8" stroke-width="1.10"/>
<line x1="471.05" y1="331.30" x2="471.05" y2="340.70" stroke="#9e6a3a" stroke-width="1.10"/>
<line x1="468.65" y1="331.30" x2="473.45" y2="331.30" stroke="#9e6a3a" stroke-width="1.10"/>
<line x1="471.05" y1="321.20" x2="471.05" y2="333.90" stroke="#6666a8" stroke-width="1.10"/>
<line x1="468.85" y1="321.20" x2="473.25" y2="321.20" stroke="#6666a8" stroke-width="1.10"/>
<rect x="513.3" y="244.2" width="171.7" height="156.3" fill="#f2f2ec"/>
<rect x="546.6" y="250.5" width="132.3" height="132.5" fill="#ffffff"/>
<clipPath id="c2"><rect x="546.6" y="250.5" width="132.3" height="132.5"/></clipPath>
<g clip-path="url(#c2)"><ellipse cx="583.3" cy="332.3" rx="55.4" ry="28.2" transform="rotate(1.2 583.3 332.3)" fill="none" stroke="#e8485a" stroke-width="1"/></g>
<line x1="543.00" y1="383.00" x2="546.60" y2="383.00" stroke="#9a9a9a" stroke-width="0.80"/>
<text x="534.76" y="385.60" font-size="12.00" fill="#231815">0</text>
<line x1="543.00" y1="341.70" x2="546.60" y2="341.70" stroke="#9a9a9a" stroke-width="0.80"/>
<text x="528.10" y="345.80" font-size="12.00" fill="#231815">50</text>
<line x1="543.00" y1="300.40" x2="546.60" y2="300.40" stroke="#9a9a9a" stroke-width="0.80"/>
<text x="521.44" y="304.70" font-size="12.00" fill="#231815">100</text>
<line x1="543.00" y1="259.10" x2="546.60" y2="259.10" stroke="#9a9a9a" stroke-width="0.80"/>
<text x="521.44" y="264.90" font-size="12.00" fill="#231815">150</text>
<line x1="546.50" y1="383.00" x2="546.50" y2="386.50" stroke="#9a9a9a" stroke-width="0.80"/>
<text x="543.14" y="398.60" font-size="12.00" fill="#231815">0</text>
<line x1="570.05" y1="383.00" x2="570.05" y2="386.50" stroke="#9a9a9a" stroke-width="0.80"/>
<text x="559.82" y="398.60" font-size="12.00" fill="#231815">100</text>
<line x1="593.60" y1="383.00" x2="593.60" y2="386.50" stroke="#9a9a9a" stroke-width="0.80"/>
<text x="583.52" y="398.60" font-size="12.00" fill="#231815">200</text>
<line x1="617.15" y1="383.00" x2="617.15" y2="386.50" stroke="#9a9a9a" stroke-width="0.80"/>
<text x="607.16" y="398.60" font-size="12.00" fill="#231815">300</text>
<line x1="640.70" y1="383.00" x2="640.70" y2="386.50" stroke="#9a9a9a" stroke-width="0.80"/>
<text x="630.80" y="398.60" font-size="12.00" fill="#231815">400</text>
<line x1="664.25" y1="383.00" x2="664.25" y2="386.50" stroke="#9a9a9a" stroke-width="0.80"/>
<text x="654.23" y="398.60" font-size="12.00" fill="#231815">500</text>
<text x="559.82" y="411.60" font-size="12.00" fill="#231815" textLength="103.51" lengthAdjust="spacingAndGlyphs">tail vein TG (mg/dL)</text>
<text x="505.41" y="427.00" font-size="11.70" fill="#231815" textLength="174.97" lengthAdjust="spacingAndGlyphs">2 h after administration of olive oil</text>
<circle cx="563.10" cy="236.70" r="2.40" fill="#f0901e"/>
<text x="569.72" y="240.10" font-size="12.00" fill="#231815" textLength="39.75" lengthAdjust="spacingAndGlyphs">olive oil</text>
<circle cx="624.50" cy="236.70" r="2.40" fill="#2452a6"/>
<text x="631.12" y="240.10" font-size="12.00" fill="#231815" textLength="35.67" lengthAdjust="spacingAndGlyphs">control</text>
<text x="549.98" y="260.50" font-size="11.50" fill="#231815" textLength="55.63" lengthAdjust="spacingAndGlyphs"><tspan font-style="italic">R</tspan> = -0.0460</text>
<text x="549.98" y="271.00" font-size="11.50" fill="#231815" textLength="54.68" lengthAdjust="spacingAndGlyphs"><tspan font-style="italic">P</tspan> =  0.8197</text>
<text x="647.42" y="264.20" font-size="13.00" fill="#231815" textLength="27.89" lengthAdjust="spacingAndGlyphs">[GX]</text>
<circle cx="570.80" cy="324.90" r="2.00" fill="#f0901e"/>
<circle cx="572.70" cy="331.30" r="2.00" fill="#f0901e"/>
<circle cx="575.30" cy="331.30" r="2.00" fill="#f0901e"/>
<circle cx="577.30" cy="337.80" r="2.00" fill="#f0901e"/>
<circle cx="586.10" cy="336.50" r="2.00" fill="#f0901e"/>
<circle cx="583.80" cy="348.60" r="2.00" fill="#f0901e"/>
<circle cx="592.60" cy="343.50" r="2.00" fill="#f0901e"/>
<circle cx="598.90" cy="294.10" r="2.00" fill="#f0901e"/>
<circle cx="620.90" cy="318.80" r="2.00" fill="#f0901e"/>
<circle cx="630.50" cy="328.10" r="2.00" fill="#f0901e"/>
<circle cx="639.80" cy="330.90" r="2.00" fill="#f0901e"/>
<circle cx="586.50" cy="336.50" r="2.00" fill="#f0901e"/>
<circle cx="595.80" cy="338.90" r="2.00" fill="#f0901e"/>
<circle cx="592.40" cy="343.90" r="2.00" fill="#f0901e"/>
<circle cx="602.70" cy="349.10" r="2.00" fill="#f0901e"/>
<circle cx="615.70" cy="348.00" r="2.00" fill="#f0901e"/>
<circle cx="559.10" cy="320.70" r="2.00" fill="#2452a6"/>
<circle cx="562.30" cy="318.80" r="2.00" fill="#2452a6"/>
<circle cx="563.80" cy="324.40" r="2.00" fill="#2452a6"/>
<circle cx="563.40" cy="326.20" r="2.00" fill="#2452a6"/>
<circle cx="567.10" cy="326.20" r="2.00" fill="#2452a6"/>
<circle cx="562.30" cy="328.10" r="2.00" fill="#2452a6"/>
<circle cx="561.50" cy="332.80" r="2.00" fill="#2452a6"/>
<circle cx="562.30" cy="334.60" r="2.00" fill="#2452a6"/>
<circle cx="564.70" cy="336.10" r="2.00" fill="#2452a6"/>
<circle cx="568.40" cy="333.70" r="2.00" fill="#2452a6"/>
<circle cx="571.20" cy="334.10" r="2.00" fill="#2452a6"/>
<circle cx="567.10" cy="345.40" r="2.00" fill="#2452a6"/>
<g transform="translate(509.7 365.6) rotate(-90)"><text x="-0.18" y="0.00" font-size="12.00" fill="#231815" textLength="100.63" lengthAdjust="spacingAndGlyphs">tail vein E2 (pg/mL)</text></g>
</svg>
</body></html>
